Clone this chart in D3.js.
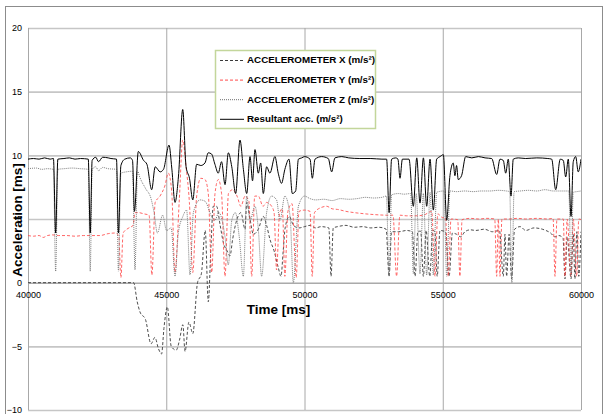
<!DOCTYPE html>
<html>
<head>
<meta charset="utf-8">
<script src="https://cdn.jsdelivr.net/npm/d3@7/dist/d3.min.js"></script>
<style>
body{margin:0;background:#fff;}
svg{font-family:"Liberation Sans",Arial,sans-serif;}
</style>
</head>
<body>
<script>
//tick values
var xTicks = [40000,45000,50000,55000,60000];
var yTicks = [-10,-5,0,5,10,15,20];

//series names for the legend
var seriesNames = ["ACCELEROMETER X (m/s\u00b2)","ACCELEROMETER Y (m/s\u00b2)","ACCELEROMETER Z (m/s\u00b2)","Resultant acc. (m/s\u00b2)"];

//[time ms, value]
var accX = [[40000,0],[43820,0],[43950,-1.5],[44050,-2.3],[44250,-2.9],[44450,-4.8],[44590,-4.3],[44720,-5.2],[44830,-5.6],[44920,-3.5],[45040,-1.9],[45180,-5.0],[45360,-5.3],[45480,-4.5],[45600,-3.3],[45680,-5.4],[45820,-3.1],[45960,-4.0],[46130,0],[46270,0.7],[46410,4.1],[46520,-1.5],[46620,3.0],[46700,6.0],[46820,6.0],[46950,4.5],[47070,3.1],[47200,2.5],[47305,2.1],[47400,3.4],[47546,4.9],[47700,5.5],[47850,4.2],[47910,6.3],[48030,5.0],[48150,3.8],[48330,4.2],[48510,5.2],[48630,4.5],[48750,3.4],[48900,2.5],[49050,1.2],[49150,0.5],[49230,2.5],[49300,4.3],[49450,5.2],[49600,4.5],[49800,4.3],[50000,4.4],[50200,4.5],[50400,4.3],[50600,4.4],[50880,4.3],[50960,0.5],[51040,4.3],[51200,4.4],[51500,4.5],[51800,4.35],[52100,4.4],[52400,4.3],[52700,4.35],[52950,4.2],[53060,0.5],[53150,4.0],[53400,4.0],[53700,4.1],[53900,4.0],[54000,0.5],[54100,4.0],[54200,4.05],[54300,0.5],[54400,4.1],[54530,0.5],[54640,4.1],[54720,4.0],[54800,0.5],[54900,4.1],[55100,4.0],[55230,0.5],[55350,3.9],[55500,3.8],[55650,3.6],[55800,4.0],[56000,4.15],[56200,4.1],[56500,4.2],[56800,4.0],[57050,4.1],[57190,0.5],[57250,3.8],[57310,0.5],[57400,3.8],[57490,0.3],[57600,4.2],[57800,4.4],[58000,4.1],[58300,4.3],[58600,4.2],[58900,3.9],[59060,3.6],[59200,3.7],[59350,3.5],[59420,0.3],[59500,3.6],[59640,0.3],[59720,3.8],[59780,0.3],[59850,4.0],[59920,0.5],[60000,4.0]];

var accY = [[40000,3.7],[40200,3.65],[40400,3.7],[40550,3.55],[40700,3.7],[40900,3.75],[41100,3.7],[41400,3.7],[41700,3.65],[42000,3.7],[42300,3.7],[42600,3.7],[42900,3.85],[43150,3.9],[43280,3.7],[43360,0.4],[43440,3.9],[43650,4.3],[43800,4.5],[43870,5.5],[44000,5.5],[44200,5.4],[44380,5.3],[44480,0.6],[44600,6.3],[44774,6.8],[44950,7.6],[45075,8.6],[45196,7.2],[45316,0.8],[45472,6.5],[45596,11.2],[45717,9.1],[45837,6.3],[45958,0.8],[46100,6.8],[46250,8.2],[46400,8.1],[46520,7.0],[46643,0.8],[46763,7.0],[46884,8.1],[47000,7.0],[47125,0.5],[47250,7.0],[47400,7.3],[47560,6.8],[47700,6.0],[47850,6.8],[47990,6.4],[48090,0.5],[48200,6.8],[48330,6.8],[48500,6.0],[48630,6.3],[48810,6.0],[48900,5.5],[48990,1.0],[49100,5.5],[49200,5.8],[49290,0.5],[49400,5.6],[49550,6.2],[49700,0.4],[49800,5.6],[50000,5.7],[50200,5.6],[50280,0.5],[50360,5.5],[50600,5.9],[50800,6.0],[51000,5.8],[51200,5.75],[51500,5.6],[52000,5.45],[52500,5.35],[53000,5.3],[53200,5.3],[53330,0.5],[53450,5.3],[53700,5.25],[54000,5.25],[54300,5.3],[54600,5.6],[54720,0.5],[54820,5.4],[55000,5.1],[55100,5.1],[55200,0.5],[55300,5.0],[55540,4.95],[55620,0.5],[55700,4.95],[56000,5.05],[56300,5.0],[56600,5.05],[56880,5.0],[56950,0.5],[57010,5.0],[57070,0.5],[57140,5.0],[57400,5.0],[57700,5.05],[58000,5.0],[58400,5.05],[58800,5.0],[58990,5.05],[59060,0.5],[59130,5.0],[59360,5.0],[59420,0.5],[59500,5.0],[59640,0.5],[59720,5.0],[59845,0.5],[59920,5.0],[60000,4.95]];

var accZ = [[40000,8.95],[40300,9.0],[40500,8.9],[40700,8.95],[40920,8.9],[41000,0.9],[41080,8.9],[41300,8.95],[41600,9.0],[41900,8.95],[42180,8.9],[42250,0.9],[42320,8.9],[42450,9.1],[42550,8.8],[42700,9.05],[42900,8.95],[43200,8.9],[43270,0.9],[43360,8.6],[43550,8.7],[43780,8.75],[43870,1.0],[43960,8.8],[44040,8.3],[44250,7.4],[44450,6.6],[44560,5.5],[44680,3.9],[44870,5.3],[45010,4.1],[45180,4.3],[45317,0.5],[45437,3.9],[45600,5.2],[45738,5.7],[45859,0.6],[45980,5.5],[46221,6.5],[46400,6.4],[46640,5.2],[46760,4.9],[46900,5.5],[47125,3.6],[47245,1.4],[47370,4.9],[47500,5.5],[47640,3.6],[47788,0.5],[47910,6.8],[48030,4.9],[48210,6.0],[48330,4.2],[48450,0.5],[48630,5.5],[48810,6.8],[48990,6.5],[49110,4.9],[49290,6.8],[49480,5.2],[49597,0.0],[49780,6.0],[50000,6.8],[50200,6.6],[50400,6.5],[50700,6.55],[51000,6.45],[51300,6.6],[51600,6.55],[51900,6.6],[52200,6.7],[52500,6.65],[52800,6.7],[52960,6.8],[53060,0.5],[53150,6.9],[53400,7.0],[53600,6.95],[53840,7.0],[53936,0.7],[54040,7.0],[54177,0.7],[54300,7.0],[54419,0.6],[54540,7.1],[54660,0.6],[54780,7.1],[55040,7.2],[55142,0.5],[55260,7.2],[55500,7.15],[55800,7.2],[56100,7.15],[56400,7.2],[56700,7.2],[57000,7.25],[57300,7.2],[57420,7.15],[57500,0.0],[57580,7.15],[57800,7.2],[58100,7.25],[58400,7.2],[58700,7.3],[59000,7.2],[59300,7.2],[59560,7.2],[59640,0.5],[59720,7.1],[59850,7.15],[60000,7.2]];

var accR = [[40000,9.7],[40200,9.75],[40400,9.7],[40600,9.8],[40800,9.7],[40920,9.75],[41000,3.9],[41080,9.7],[41300,9.75],[41500,9.8],[41700,9.7],[41900,9.75],[42180,9.7],[42250,3.9],[42320,9.6],[42450,9.85],[42550,9.5],[42700,9.85],[42900,9.8],[43000,9.75],[43200,9.7],[43270,3.9],[43360,9.2],[43500,9.7],[43700,9.8],[43780,9.6],[43850,5.6],[43990,10.3],[44180,9.6],[44300,9.3],[44474,7.3],[44600,9.1],[44780,8.7],[44900,8.9],[45100,10.8],[45200,9.0],[45316,6.3],[45440,8.3],[45596,13.6],[45717,9.1],[45840,8.2],[45960,6.5],[46100,9.3],[46250,9.2],[46400,9.4],[46520,10.2],[46640,10.1],[46760,9.3],[46880,8.6],[47000,9.5],[47125,7.7],[47245,10.2],[47370,9.1],[47510,7.0],[47667,11.2],[47790,8.9],[47910,7.0],[48030,9.9],[48120,8.0],[48210,10.45],[48330,8.6],[48415,9.4],[48510,7.0],[48630,9.1],[48750,8.6],[48930,9.9],[49050,8.6],[49170,7.8],[49290,8.9],[49440,9.7],[49560,7.0],[49680,7.2],[49780,9.7],[49900,9.8],[50000,9.9],[50200,9.7],[50283,8.2],[50380,9.7],[50620,9.9],[50860,9.75],[50983,8.7],[51100,9.8],[51350,9.9],[51600,9.8],[52000,9.75],[52400,9.75],[52800,9.7],[52970,9.7],[53060,5.5],[53150,9.7],[53300,9.8],[53380,9.7],[53454,8.2],[53540,9.7],[53780,9.7],[53936,6.0],[54060,9.8],[54177,6.25],[54300,9.8],[54419,6.0],[54540,9.7],[54660,5.7],[54780,9.7],[54900,9.9],[55022,10.05],[55142,4.9],[55260,8.4],[55380,9.4],[55440,8.4],[55500,9.2],[55560,8.1],[55680,8.4],[55830,9.9],[56050,9.8],[56290,9.9],[56530,9.8],[56770,9.75],[56950,8.5],[57070,9.7],[57190,9.6],[57276,8.6],[57370,9.7],[57469,6.8],[57550,9.7],[57730,9.8],[58000,9.75],[58400,9.8],[58800,9.75],[58940,9.7],[59085,7.3],[59250,9.7],[59360,9.6],[59446,8.3],[59540,9.7],[59640,5.2],[59720,9.5],[59808,9.9],[59900,8.7],[60000,9.7]];

//globals
var width = 606, height = 414;
var plotLeft = 28, plotRight = 581, plotTop = 28, plotBottom = 410;

var svg = d3.select("body").append("svg")
    .attr("width",width)
    .attr("height",height);

//outer chart frame
svg.append("rect")
    .attr("x",5.5).attr("y",6.5)
    .attr("width",597).attr("height",430)
    .attr("fill","none")
    .attr("stroke","#8c8c8c");

var x = d3.scaleLinear().domain([40000,60000]).range([plotLeft,plotRight]);
var y = d3.scaleLinear().domain([-10,20]).range([plotBottom,plotTop]);

//horizontal gridlines + y labels
var yAxis = svg.append("g")
    .attr("transform","translate("+plotLeft+",0)")
    .call(d3.axisLeft(y).tickValues(yTicks).tickSize(-(plotRight-plotLeft)).tickPadding(6).tickFormat(d3.format("d")));
yAxis.select(".domain").remove();
yAxis.selectAll(".tick line")
    .attr("stroke",function(d){return d===0 ? "#7f7f7f" : "#c6c6c6";})
    .attr("stroke-width",function(d){return d===0 ? 1 : 1.6;});
yAxis.selectAll(".tick text")
    .attr("font-size",9).attr("fill","#000")
    .attr("font-family","Liberation Sans, Arial, sans-serif");

//vertical gridlines
svg.append("g").selectAll("line")
    .data(xTicks)
    .enter()
    .append("line")
    .attr("x1",function(d){return x(d)+0.5})
    .attr("x2",function(d){return x(d)+0.5})
    .attr("y1",plotTop)
    .attr("y2",plotBottom)
    .attr("stroke","#a8a8a8")
    .attr("stroke-width",1);

//x labels sit under the zero line
var xAxis = svg.append("g")
    .attr("transform","translate(0,"+y(0)+")")
    .call(d3.axisBottom(x).tickValues(xTicks).tickSize(0).tickPadding(8.5).tickFormat(d3.format("d")));
xAxis.select(".domain").remove();
xAxis.selectAll(".tick text")
    .attr("font-size",9).attr("fill","#000")
    .attr("font-family","Liberation Sans, Arial, sans-serif");

//clip for the data lines
svg.append("clipPath").attr("id","plotclip")
    .append("rect")
    .attr("x",plotLeft).attr("y",plotTop)
    .attr("width",plotRight-plotLeft).attr("height",plotBottom-plotTop);

var line = d3.line()
    .x(function(d){return x(d[0])})
    .y(function(d){return y(d[1])})
    .curve(d3.curveMonotoneX);

var styles = [
    {data:accX, stroke:"#3a3a3a", dash:"3,2", w:0.9},
    {data:accY, stroke:"#ff4a4a", dash:"3,2", w:0.85},
    {data:accZ, stroke:"#6e6e6e", dash:"1,1", w:0.9},
    {data:accR, stroke:"#000000", dash:null, w:1}
];

svg.append("g").attr("clip-path","url(#plotclip)")
    .selectAll("path")
    .data(styles)
    .enter()
    .append("path")
    .attr("d",function(d){return line(d.data)})
    .attr("fill","none")
    .attr("stroke",function(d){return d.stroke})
    .attr("stroke-width",function(d){return d.w})
    .attr("stroke-dasharray",function(d){return d.dash});

//axis titles
svg.append("text")
    .attr("x",278.5).attr("y",314)
    .attr("text-anchor","middle")
    .attr("font-size",13.5).attr("font-weight","bold")
    .text("Time [ms]");

svg.append("text")
    .attr("transform","translate(21.5,220) rotate(-90)")
    .attr("text-anchor","middle")
    .attr("font-size",13.5).attr("font-weight","bold")
    .text("Acceleration [ms]");

//legend
var legend = svg.append("g");
legend.append("rect")
    .attr("x",215.5).attr("y",50.5)
    .attr("width",160).attr("height",78)
    .attr("fill","#fff")
    .attr("stroke","#c3d69b")
    .attr("stroke-width",1.5);

var item = legend.selectAll("g.item")
    .data(styles)
    .enter()
    .append("g")
    .attr("transform",function(d,i){return "translate(0,"+(60+i*19.6)+")"});

item.append("line")
    .attr("x1",220).attr("x2",244)
    .attr("y1",0.5).attr("y2",0.5)
    .attr("stroke",function(d){return d.stroke})
    .attr("stroke-width",1)
    .attr("stroke-dasharray",function(d){return d.dash});

item.append("text")
    .attr("x",247).attr("y",0)
    .attr("dy","0.35em")
    .attr("font-size",9.8).attr("font-weight","bold")
    .text(function(d,i){return seriesNames[i]});
</script>
</body>
</html>
